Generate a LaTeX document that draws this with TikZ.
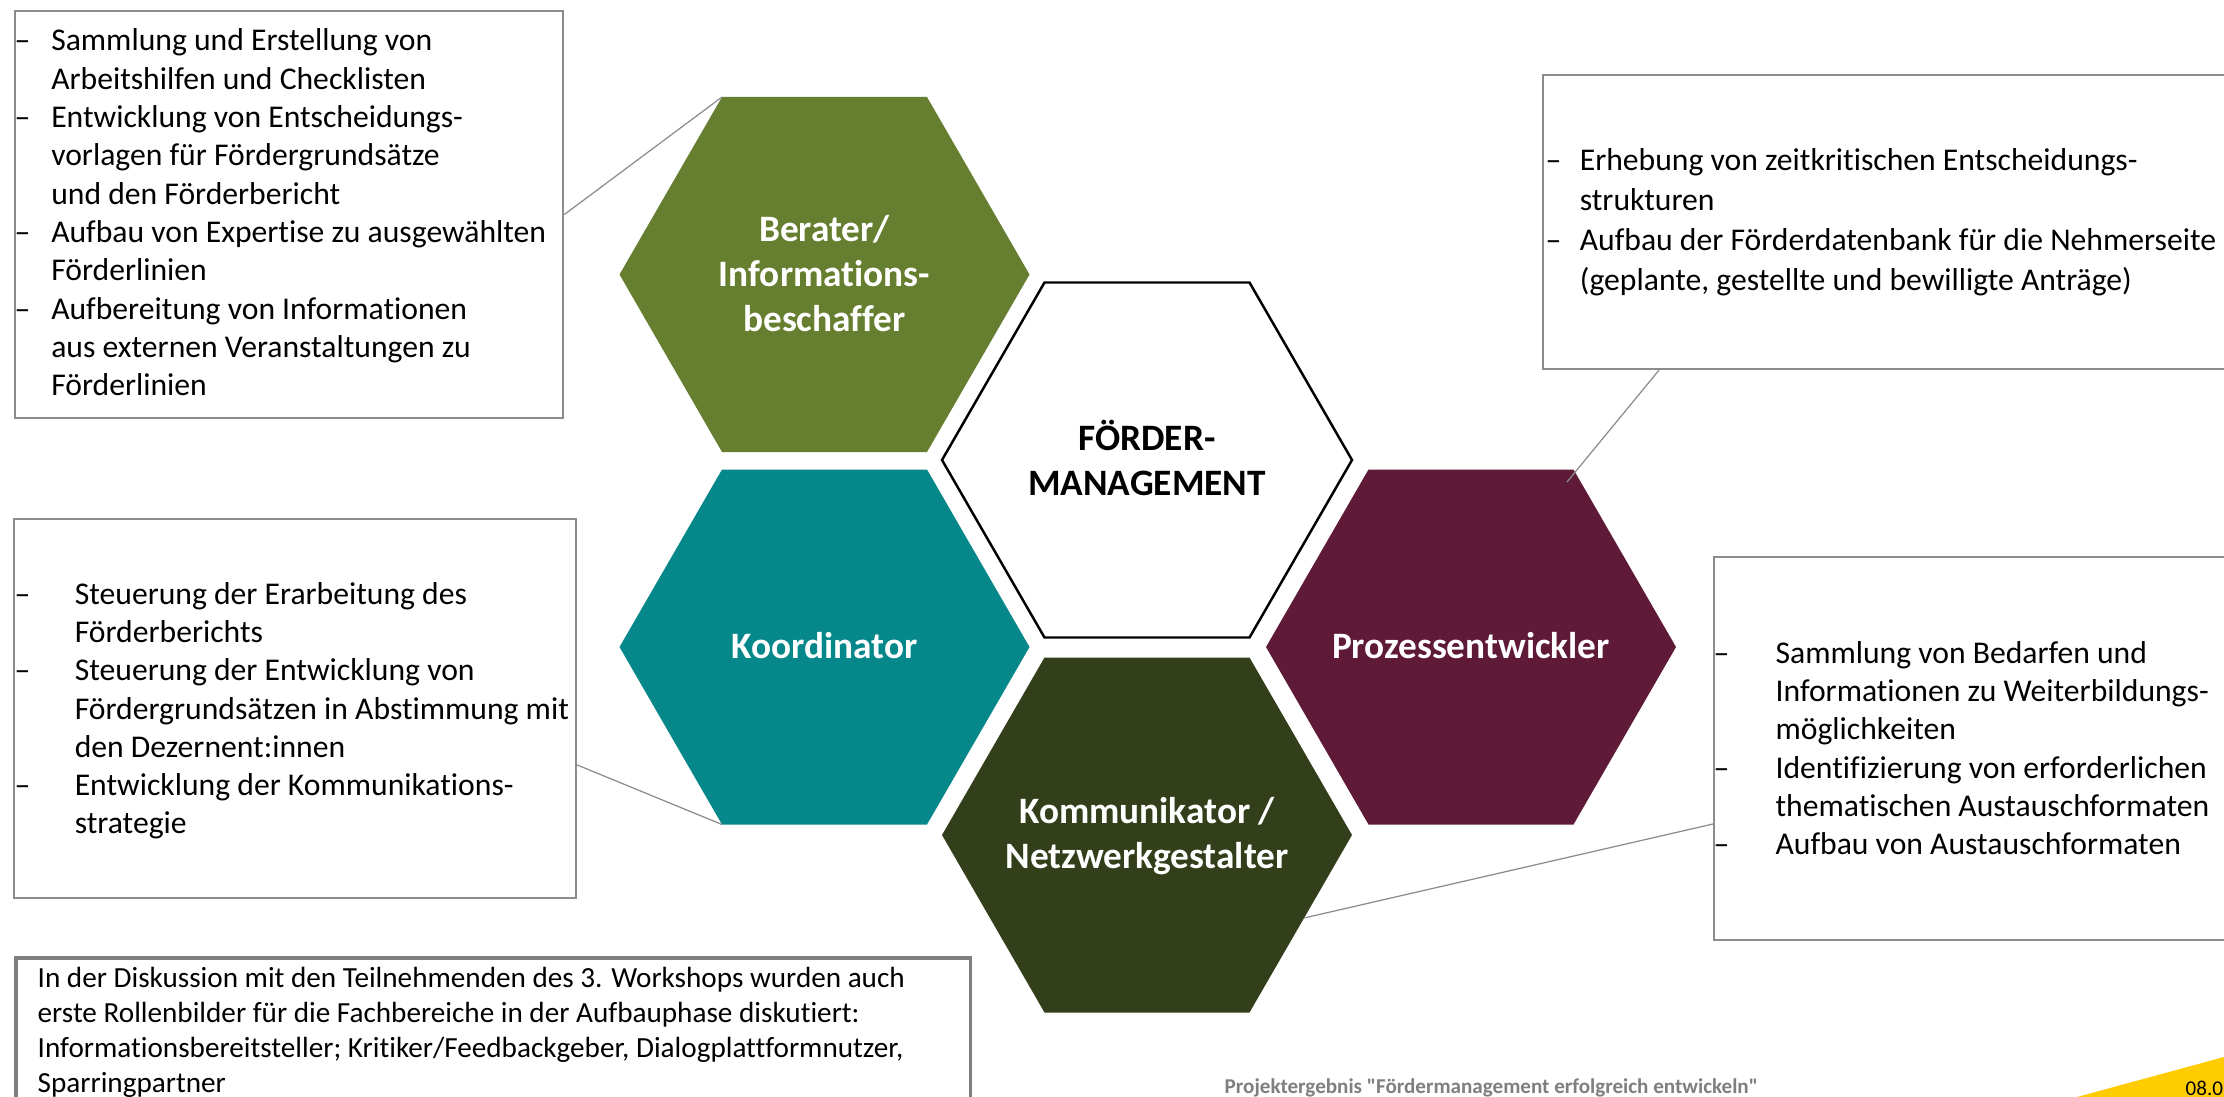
\documentclass[tikz,border=0pt]{standalone}
\usepackage{fontspec}
\setmainfont{Carlito}[Ligatures=NoCommon]
\newfontfamily\footfont{Carlito}[Ligatures=NoCommon]
\usetikzlibrary{calc}
\definecolor{hgreen}{HTML}{667E2F}
\definecolor{hteal}{HTML}{06878A}
\definecolor{hmaroon}{HTML}{5E1A37}
\definecolor{holive}{HTML}{333F1A}
\definecolor{byellow}{HTML}{FFCC00}
\definecolor{bgray}{HTML}{8C8C8C}
\definecolor{fgray}{HTML}{7F7F7F}
\newlength\myind
\newcommand\dl[1]{\hbox{\hbox to\myind{–\hss}#1}}
\newcommand\pl[1]{\hbox{\hskip\myind #1}}
\newcommand\cl[1]{\vtop{\halign{\hfil##\hfil\cr#1\crcr}}}
\begin{document}
\begin{tikzpicture}[x=0.01cm,y=-0.01cm,
  hexa/.pic={\path[pic actions] (-205,0) -- (-102.5,-177.5) -- (102.5,-177.5) -- (205,0) -- (102.5,177.5) -- (-102.5,177.5) -- cycle;},
  box/.style={draw=bgray, line width=0.55pt, anchor=north west, inner sep=0pt, fill=white},
  txt/.style={anchor=base west, inner sep=0pt, font=\fontsize{9}{10.9}\selectfont},
  hlabel/.style={anchor=base, inner sep=0pt, text=white, font=\bfseries\fontsize{10.6}{12.8}\selectfont},
  conn/.style={draw=bgray, line width=0.35pt}]
\useasboundingbox (0,0) rectangle (2224,1097);
\fill[white] (0,0) rectangle (2224,1097);

% hexagon centres
\coordinate (h0) at (1147,460);
\coordinate (h1) at (824.5,274.5);
\coordinate (h2) at (824.5,647);
\coordinate (h3) at (1471,647);
\coordinate (h4) at (1147,835);

\pic[fill=white, draw=black, line width=0.7pt] at (h0) {hexa};
\pic[fill=hgreen] at (h1) {hexa};
\pic[fill=hteal] at (h2) {hexa};
\pic[fill=hmaroon] at (h3) {hexa};
\pic[fill=holive] at (h4) {hexa};

\node[hlabel, text=black] (t0) at (1147,450) {\cl{FÖRDER-\cr MANAGEMENT}};
\node[hlabel] (t1) at (824.5,241.7) {\cl{Berater/\cr Informations-\cr beschaffer}};
\node[hlabel] (t2) at (824.5,658) {Koordinator};
\node[hlabel] (t3) at (1471,658) {Prozessentwickler};
\node[hlabel] (t4) at (1147,823.7) {\cl{Kommunikator /\cr Netzwerkgestalter}};

% boxes
\node[box, minimum width=5.48cm, minimum height=4.07cm] (b1) at (14,10) {};
\node[box, minimum width=6.84cm, minimum height=2.94cm] (b2) at (1542,74) {};
\node[box, minimum width=5.62cm, minimum height=3.79cm] (b3) at (13,518) {};
\node[box, minimum width=5.13cm, minimum height=3.83cm] (b4) at (1713,556) {};
\node[box, draw=fgray, line width=1pt, minimum width=9.54cm, minimum height=1.6cm] (b5) at (14,956) {};

% box texts
\node[txt] (x1) at (14,51) {\setlength\myind{10.4pt}\vtop{%
  \dl{Sammlung und Erstellung von}%
  \pl{Arbeitshilfen und Checklisten}%
  \dl{Entwicklung von Entscheidungs-}%
  \pl{vorlagen für Fördergrundsätze}%
  \pl{und den Förderbericht}%
  \dl{Aufbau von Expertise zu ausgewählten}%
  \pl{Förderlinien}%
  \dl{Aufbereitung von Informationen}%
  \pl{aus externen Veranstaltungen zu}%
  \pl{Förderlinien}}};

\node[txt, font=\fontsize{9}{11.3}\selectfont] (x2) at (1545,171) {\setlength\myind{9.7pt}\vtop{%
  \dl{Erhebung von zeitkritischen Entscheidungs-}%
  \pl{strukturen}%
  \dl{Aufbau der Förderdatenbank für die Nehmerseite}%
  \pl{(geplante, gestellte und bewilligte Anträge)}}};

\node[txt] (x3) at (14,604) {\setlength\myind{17.1pt}\vtop{%
  \dl{Steuerung der Erarbeitung des}%
  \pl{Förderberichts}%
  \dl{Steuerung der Entwicklung von}%
  \pl{Fördergrundsätzen in Abstimmung mit}%
  \pl{den Dezernent:innen}%
  \dl{Entwicklung der Kommunikations-}%
  \pl{strategie}}};

\node[txt] (x4) at (1713,663) {\setlength\myind{17.6pt}\vtop{%
  \dl{Sammlung von Bedarfen und}%
  \pl{Informationen zu Weiterbildungs-}%
  \pl{möglichkeiten}%
  \dl{Identifizierung von erforderlichen}%
  \pl{thematischen Austauschformaten}%
  \dl{Aufbau von Austauschformaten}}};

\node[txt, font=\fontsize{8.3}{9.96}\selectfont] (x5) at (37,987) {\setlength\myind{0pt}\vtop{%
  \pl{In der Diskussion mit den Teilnehmenden des 3. Workshops wurden auch}%
  \pl{erste Rollenbilder für die Fachbereiche in der Aufbauphase diskutiert:}%
  \pl{Informationsbereitsteller; Kritiker/Feedbackgeber, Dialogplattformnutzer,}%
  \pl{Sparringpartner}}};

% connectors
\coordinate (h1tl) at ($(h1)+(-102.5,-177.5)$);
\coordinate (h2bl) at ($(h2)+(-102.5,177.5)$);
\coordinate (c2a) at ($(b2.south west)+(117,0)$);
\coordinate (c2b) at ($(h3)+(96,-165)$);
\coordinate (c3a) at ($(b3.north east)+(0,247)$);
\coordinate (c4a) at ($(b4.north west)+(0,268)$);
\coordinate (c4b) at ($(h4)+(157,83)$);
\draw[conn] (b1.east) -- (h1tl);
\draw[conn] (c2a) -- (c2b);
\draw[conn] (c3a) -- (h2bl);
\draw[conn] (c4a) -- (c4b);

% footer
\fill[byellow] (2077,1097) -- (2224,1057) -- (2224,1097) -- cycle;
\node[anchor=base west, inner sep=0pt, font=\footfont\fontsize{6}{7}\selectfont] (date) at (2185,1095) {08.0};
\node[anchor=base west, inner sep=0pt, text=fgray, font=\footfont\bfseries\fontsize{6}{7}\selectfont] (foot) at (1224,1093) {Projektergebnis "Fördermanagement erfolgreich entwickeln"};
\end{tikzpicture}
\end{document}
